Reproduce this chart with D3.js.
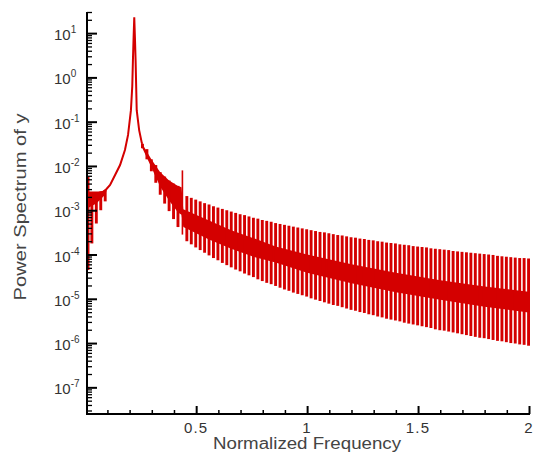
<!DOCTYPE html>
<html><head><meta charset="utf-8">
<script src="https://cdn.jsdelivr.net/npm/d3@7"></script>
<style>body{margin:0;background:#fff}svg{display:block}</style>
</head><body>
<svg id="chart" width="536" height="461"></svg>
<script>
// ---- data (powers of ten) ----
const lineFreq = [0.008,0.03,0.06,0.08,0.096,0.112,0.134,0.157,0.179,0.193,0.206,0.212,0.215,0.218,0.221,0.224,0.227,0.232,0.243,0.255,0.258];
const lineExp  = [-2.6,-2.6,-2.6,-2.59,-2.52,-2.43,-2.21,-1.98,-1.64,-1.30,-0.74,-0.2,0.39,0.9,1.36,0.9,0.39,-0.74,-1.19,-1.48,-1.5];

const leftSpikeFreq  = [0.0125,0.03,0.05,0.07,0.09];
const leftSpikeHiExp = [-2.25,-2.6,-2.6,-2.6,-2.55];
const leftSpikeLoExp = [-4.35,-3.75,-3.3,-3.0,-2.8];
const leftBandFreq   = [0.0125,0.05,0.09,0.1];
const leftBandTopExp = [-2.6,-2.6,-2.55,-2.5];
const leftBandBotExp = [-2.95,-2.85,-2.65,-2.5];

const spikeFreq = [0.258,0.278,0.298,0.318,0.338,0.358,0.378,0.398,0.418,0.438,
 0.458,0.478,0.498,0.518,0.538,0.558,0.578,0.598,0.618,0.638,0.658,0.678,0.698,0.718,0.738,0.758,0.778,0.798,0.818,0.838,0.858,0.878,0.898,0.918,0.938,0.958,0.978,0.998,
 1.018,1.038,1.058,1.078,1.098,1.118,1.138,1.158,1.178,1.198,1.218,1.238,1.258,1.278,1.298,1.318,1.338,1.358,1.378,1.398,1.418,1.438,1.458,1.478,1.498,
 1.518,1.538,1.558,1.578,1.598,1.618,1.638,1.658,1.678,1.698,1.718,1.738,1.758,1.778,1.798,1.818,1.838,1.858,1.878,1.898,1.918,1.938,1.958,1.978,1.998];
const spikeHiExp = [-1.50,-1.62,-1.85,-1.98,-2.14,-2.24,-2.33,-2.40,-2.45,-2.10,
 -2.68,-2.72,-2.76,-2.80,-2.84,-2.87,-2.91,-2.94,-2.97,-3.00,-3.03,-3.06,-3.09,-3.11,-3.14,-3.17,-3.19,-3.22,-3.24,-3.26,-3.29,-3.31,-3.33,-3.35,-3.37,-3.39,-3.41,-3.43,
 -3.45,-3.47,-3.49,-3.50,-3.52,-3.54,-3.56,-3.57,-3.59,-3.61,-3.62,-3.64,-3.65,-3.67,-3.68,-3.70,-3.71,-3.73,-3.74,-3.75,-3.77,-3.78,-3.79,-3.81,-3.82,
 -3.83,-3.84,-3.86,-3.87,-3.88,-3.89,-3.90,-3.92,-3.93,-3.94,-3.95,-3.96,-3.97,-3.98,-3.99,-4.00,-4.01,-4.03,-4.04,-4.05,-4.06,-4.07,-4.08,-4.08,-4.09];
const spikeLoExp = [-1.60,-1.85,-2.12,-2.38,-2.65,-2.85,-3.02,-3.20,-3.38,-3.55,
 -3.70,-3.77,-3.84,-3.90,-3.96,-4.02,-4.08,-4.13,-4.19,-4.24,-4.29,-4.34,-4.38,-4.43,-4.47,-4.51,-4.56,-4.60,-4.64,-4.67,-4.71,-4.75,-4.79,-4.82,-4.86,-4.89,-4.92,-4.95,
 -4.99,-5.02,-5.05,-5.08,-5.11,-5.14,-5.16,-5.19,-5.22,-5.25,-5.27,-5.30,-5.32,-5.35,-5.37,-5.40,-5.42,-5.45,-5.47,-5.49,-5.51,-5.54,-5.56,-5.58,-5.60,
 -5.62,-5.64,-5.66,-5.69,-5.71,-5.72,-5.74,-5.76,-5.78,-5.80,-5.82,-5.84,-5.86,-5.88,-5.89,-5.91,-5.93,-5.95,-5.96,-5.98,-6.00,-6.01,-6.03,-6.04,-6.06];

const bandFreq   = [0.255,0.298,0.338,0.378,0.418,0.434,0.442,0.558,0.658,0.758,0.858,1.0,1.2,1.4,1.6,1.8,1.998];
const bandTopExp = [-1.48,-1.85,-2.14,-2.33,-2.45,-2.48,-2.98,-3.23,-3.45,-3.63,-3.82,-4.0,-4.22,-4.41,-4.58,-4.72,-4.84];
const bandBotExp = [-1.57,-2.03,-2.47,-2.78,-3.05,-3.10,-3.38,-3.66,-3.87,-4.05,-4.18,-4.41,-4.65,-4.85,-5.02,-5.18,-5.31];

const xMajorTicks = [0.5,1,1.5,2];
const xTickLabels = ["0.5","1","1.5","2"];
const xMinorTicks = [0.1,0.2,0.3,0.4,0.6,0.7,0.8,0.9,1.1,1.2,1.3,1.4,1.6,1.7,1.8,1.9];
const yDecades = [-7,-6,-5,-4,-3,-2,-1,0,1];

// ---- drawing ----
const RED = "#d40000";
const svg = d3.select("#chart");
const x = d3.scaleLinear().domain([0.008, 2]).range([87, 529]);
const y = d3.scaleLog().domain([2.5e-8, 30]).range([414, 12]);
const p = e => Math.pow(10, e);

function drawBand(fs, tops, bots) {
  const data = fs.map((f,i)=>({f, t:p(tops[i]), b:p(bots[i])}));
  svg.append("path").datum(data)
    .attr("d", d3.area().x(d=>x(d.f)).y0(d=>y(d.b)).y1(d=>y(d.t)))
    .attr("fill", RED);
}
function drawSpikes(fs, his, los, widthFn) {
  const data = fs.map((f,i)=>({f, hi:p(his[i]), lo:p(los[i])}));
  svg.append("g").selectAll("line").data(data).join("line")
    .attr("x1", d=>x(d.f)).attr("x2", d=>x(d.f))
    .attr("y1", d=>y(d.lo)).attr("y2", d=>y(d.hi))
    .attr("stroke", RED).attr("stroke-width", widthFn);
}

drawBand(bandFreq, bandTopExp, bandBotExp);
drawBand(leftBandFreq, leftBandTopExp, leftBandBotExp);
drawSpikes(spikeFreq, spikeHiExp, spikeLoExp, (d,i)=> i===9 ? 1.6 : 2.9);
drawSpikes(leftSpikeFreq, leftSpikeHiExp, leftSpikeLoExp, 2.9);

const line = lineFreq.map((f,i)=>({f, v:p(lineExp[i])}));
svg.append("path").datum(line)
  .attr("d", d3.line().x(d=>x(d.f)).y(d=>y(d.v)))
  .attr("fill","none").attr("stroke", RED).attr("stroke-width", 2);

// axes
const yMinor = [];
for (let d=-8; d<=1; d++) for (let m=2; m<=9; m++) { const v=m*Math.pow(10,d); if (v>=2.5e-8 && v<=30) yMinor.push(v); }
const yMajorVals = yDecades.map(e=>p(e));

function tickAxis(axis, tr, vals, size, w) {
  const g = svg.append("g").attr("transform", tr);
  g.call(axis.tickValues(vals).tickSize(size).tickFormat(""));
  g.selectAll(".tick line").attr("stroke","#000").attr("stroke-width",w);
  g.select(".domain").remove();
}
tickAxis(d3.axisLeft(y), "translate(87,0)", yMajorVals, -10, 2);
tickAxis(d3.axisLeft(y), "translate(87,0)", yMinor, -5, 1.3);
tickAxis(d3.axisBottom(x), "translate(0,414)", xMajorTicks, -8, 2);
tickAxis(d3.axisBottom(x), "translate(0,414)", xMinorTicks, -4, 1.5);

svg.append("line").attr("x1",87).attr("x2",87).attr("y1",12).attr("y2",415).attr("stroke","#000").attr("stroke-width",2);
svg.append("line").attr("x1",86).attr("x2",530).attr("y1",414).attr("y2",414).attr("stroke","#000").attr("stroke-width",2);

// tick labels
const FONT = "'Liberation Sans', Arial, Helvetica, sans-serif";
const yl = svg.append("g").attr("font-family",FONT).attr("fill","#333");
yDecades.forEach(e=>{
  const t = yl.append("text").attr("x",54).attr("y", y(p(e))+7).attr("font-size","15px");
  t.append("tspan").text("10");
  t.append("tspan").attr("dy",-7).attr("font-size","10px").text(String(e));
});
const xl = svg.append("g").attr("font-family",FONT).attr("fill","#333").attr("text-anchor","middle");
xMajorTicks.forEach((v,i)=>{
  xl.append("text").attr("x", x(v)).attr("y",433).attr("font-size","15px").attr("letter-spacing","1.2px").text(xTickLabels[i]);
});

// titles
svg.append("text").attr("x",307).attr("y",449).attr("text-anchor","middle")
  .attr("font-family",FONT).attr("font-size","16px").attr("fill","#444")
  .attr("textLength",188).attr("lengthAdjust","spacingAndGlyphs").text("Normalized Frequency");
svg.append("text").attr("transform","translate(26,207) rotate(-90)").attr("text-anchor","middle")
  .attr("font-family",FONT).attr("font-size","17px").attr("fill","#444")
  .attr("textLength",187).attr("lengthAdjust","spacingAndGlyphs").text("Power Spectrum of y");
</script>
</body></html>
